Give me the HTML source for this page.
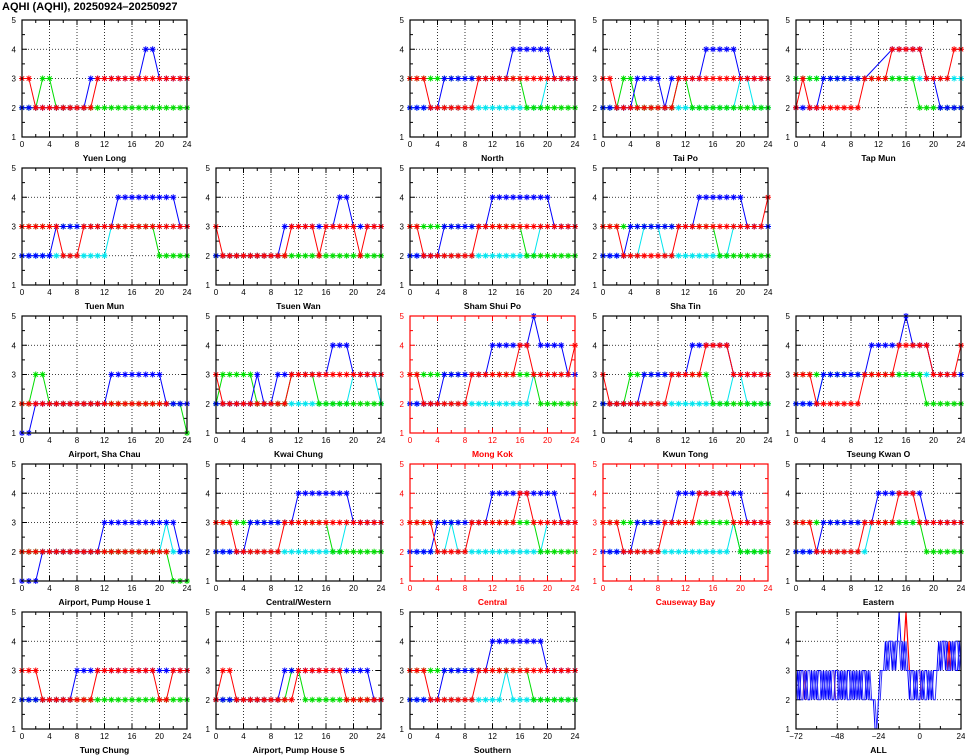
<!DOCTYPE html>
<html><head><meta charset="utf-8"><style>
html,body{margin:0;padding:0;background:#fff;}
svg{display:block;font-family:"Liberation Sans",sans-serif;}
</style></head><body>
<svg id="chart" width="965" height="755" viewBox="0 0 965 755">
<text x="2" y="10" font-size="11" font-weight="bold">AQHI (AQHI), 20250924–20250927</text>
</svg>
<script>
const N = null;
// station names in panel order
const stations = ["Yuen Long","North","Tai Po","Tap Mun","Tuen Mun","Tsuen Wan","Sham Shui Po","Sha Tin","Airport, Sha Chau","Kwai Chung","Mong Kok","Kwun Tong","Tseung Kwan O","Airport, Pump House 1","Central/Western","Central","Causeway Bay","Eastern","Tung Chung","Airport, Pump House 5","Southern"];
const roadside = ["Mong Kok","Central","Causeway Bay"];
const xTicks = [0,4,8,12,16,20,24];
const yTicks = [1,2,3,4,5];
const allXTicks = [-72,-48,-24,0,24];
// hourly series (hours 0..24) per station: blue, red, green, cyan
const blueVals = [
[2,2,2,2,2,2,2,2,2,2,3,3,3,3,3,3,3,3,4,4,3,3,3,3,3],
[2,2,2,2,2,3,3,3,3,3,3,3,3,3,3,4,4,4,4,4,4,3,3,3,3],
[2,2,2,2,2,3,3,3,3,2,3,3,3,3,3,4,4,4,4,4,3,3,3,3,3],
[2,2,2,2,3,3,3,3,3,3,3,N,N,N,4,4,4,4,4,3,3,2,2,2,2],
[2,2,2,2,2,3,3,3,3,3,3,3,3,3,4,4,4,4,4,4,4,4,4,3,3],
[2,2,2,2,2,2,2,2,2,2,3,3,3,3,3,3,3,3,4,4,3,3,3,3,3],
[2,2,2,2,2,3,3,3,3,3,3,3,4,4,4,4,4,4,4,4,4,3,3,3,3],
[2,2,2,2,3,3,3,3,3,3,3,3,3,3,4,4,4,4,4,4,4,3,3,3,3],
[1,1,2,2,2,2,2,2,2,2,2,2,2,3,3,3,3,3,3,3,3,2,2,2,2],
[2,2,2,2,2,2,3,2,2,3,3,3,3,3,3,3,3,4,4,4,3,3,3,3,3],
[2,2,2,2,2,3,3,3,3,3,3,3,4,4,4,4,4,4,5,4,4,4,4,3,3],
[2,2,2,2,2,2,3,3,3,3,3,3,3,4,4,4,4,4,4,3,3,3,3,3,3],
[2,2,2,2,3,3,3,3,3,3,3,4,4,4,4,4,5,4,4,4,3,3,3,3,3],
[1,1,1,2,2,2,2,2,2,2,2,2,3,3,3,3,3,3,3,3,3,3,3,2,2],
[2,2,2,2,2,3,3,3,3,3,3,3,4,4,4,4,4,4,4,4,3,3,3,3,3],
[2,2,2,2,3,3,3,3,3,3,3,3,4,4,4,4,4,4,4,4,4,4,3,3,3],
[2,2,2,2,2,3,3,3,3,3,3,4,4,4,4,4,4,4,4,4,4,3,3,3,3],
[2,2,2,2,3,3,3,3,3,3,3,3,4,4,4,4,4,4,4,3,3,3,3,3,3],
[2,2,2,2,2,2,2,2,3,3,3,3,3,3,3,3,3,3,3,3,3,3,3,3,3],
[2,2,2,2,2,2,2,2,2,2,3,3,3,3,3,3,3,3,3,3,3,3,3,2,2],
[2,2,2,2,2,3,3,3,3,3,3,3,4,4,4,4,4,4,4,4,3,3,3,3,3]
];
const redVals = [
[3,3,2,2,2,2,2,2,2,2,2,3,3,3,3,3,3,3,3,3,3,3,3,3,3],
[3,3,3,2,2,2,2,2,2,2,3,3,3,3,3,3,3,3,3,3,3,3,3,3,3],
[3,3,2,2,2,2,2,2,2,2,2,3,3,3,3,3,3,3,3,3,3,3,3,3,3],
[2,3,2,2,2,2,2,2,2,2,3,3,3,3,4,4,4,4,4,3,3,3,3,4,4],
[3,3,3,3,3,3,2,2,2,3,3,3,3,3,3,3,3,3,3,3,3,3,3,3,3],
[3,2,2,2,2,2,2,2,2,2,2,3,3,3,3,2,3,3,3,3,3,2,3,3,3],
[3,3,2,2,2,2,2,2,2,2,3,3,3,3,3,3,3,3,3,3,3,3,3,3,3],
[3,3,3,2,2,2,2,2,2,2,2,3,3,3,3,3,3,3,3,3,3,3,3,3,4],
[2,2,2,2,2,2,2,2,2,2,2,2,2,2,2,2,2,2,2,2,2,2,N,N,N],
[3,2,2,2,2,2,2,2,2,2,2,3,3,3,3,3,3,3,3,3,3,3,3,3,3],
[3,3,2,2,2,2,2,2,2,3,3,3,3,3,3,3,4,4,3,3,3,3,3,3,4],
[3,2,2,2,2,2,2,2,2,2,3,3,3,3,3,4,4,4,4,3,3,3,3,3,3],
[3,3,3,2,2,2,2,2,2,2,3,3,3,3,3,4,4,4,4,4,3,3,3,3,4],
[2,2,2,2,2,2,2,2,2,2,2,2,2,2,2,2,2,2,2,2,2,2,N,N,N],
[3,3,3,2,2,2,2,2,2,2,3,3,3,3,3,3,3,3,3,3,3,3,3,3,3],
[3,3,3,3,2,2,2,2,2,3,3,3,3,3,3,3,4,4,3,3,3,3,3,3,3],
[3,3,3,2,2,2,2,2,2,3,3,3,3,3,4,4,4,4,4,3,3,3,3,3,3],
[3,3,3,2,2,2,2,2,2,2,3,3,3,3,3,4,4,4,3,3,3,3,3,3,3],
[3,3,3,2,2,2,2,2,2,2,2,3,3,3,3,3,3,3,3,3,2,2,3,3,3],
[2,3,3,2,2,2,2,2,2,2,2,2,3,3,3,3,3,3,3,2,2,2,2,2,2],
[3,3,3,2,2,2,2,2,2,2,3,3,3,3,3,3,3,3,3,3,3,3,3,3,3]
];
const greenVals = [
[2,2,2,3,3,2,2,2,2,2,2,2,2,2,2,2,2,2,2,2,2,2,2,2,2],
[3,3,3,3,3,3,3,3,3,3,3,3,3,3,3,3,3,2,2,2,2,2,2,2,2],
[2,2,2,3,3,2,2,2,2,2,2,3,3,2,2,2,2,2,2,2,2,2,2,2,2],
[3,3,3,3,3,3,3,3,3,3,3,3,3,3,3,3,3,3,2,2,2,2,2,2,2],
[3,3,3,3,3,3,3,3,3,3,3,3,3,3,3,3,3,3,3,3,2,2,2,2,2],
[2,2,2,2,2,2,2,2,2,2,2,2,2,2,2,2,2,2,2,2,2,2,2,2,2],
[3,3,3,3,3,3,3,3,3,3,3,3,3,3,3,3,3,2,2,2,2,2,2,2,2],
[3,3,3,3,3,3,3,3,3,3,3,3,3,3,3,3,3,2,2,2,2,2,2,2,2],
[2,2,3,3,2,2,2,2,2,2,2,2,2,2,2,2,2,2,2,2,2,2,2,2,1],
[2,3,3,3,3,3,2,2,2,2,2,3,3,3,3,2,2,2,2,2,2,2,2,2,2],
[3,3,3,3,3,3,3,3,3,3,3,3,3,3,3,3,3,3,3,2,2,2,2,2,2],
[2,2,2,2,3,3,3,3,3,3,3,3,3,3,3,3,2,2,2,2,2,2,2,2,2],
[3,3,3,3,3,3,3,3,3,3,3,3,3,3,3,3,3,3,3,2,2,2,2,2,2],
[2,2,2,2,2,2,2,2,2,2,2,2,2,2,2,2,2,2,2,2,2,2,1,1,1],
[3,3,3,3,3,3,3,3,3,3,3,3,3,3,3,3,3,2,2,2,2,2,2,2,2],
[3,3,3,3,3,3,3,3,3,3,3,3,3,3,3,3,3,3,3,2,2,2,2,2,2],
[3,3,3,3,3,3,3,3,3,3,3,3,3,3,3,3,3,3,3,3,2,2,2,2,2],
[3,3,3,3,3,3,3,3,3,3,3,3,3,3,3,3,3,3,3,2,2,2,2,2,2],
[2,2,2,2,2,2,2,2,2,2,2,2,2,2,2,2,2,2,2,2,2,2,2,2,2],
[2,2,2,2,2,2,2,2,2,2,2,3,3,2,2,2,2,2,2,2,2,2,2,2,2],
[3,3,3,3,3,3,3,3,3,3,3,3,3,3,3,3,3,3,2,2,2,2,2,2,2]
];
const cyanVals = [
null,
[2,2,2,2,2,2,2,2,2,2,2,2,2,2,2,2,2,2,2,2,3,3,3,3,3],
[2,2,2,2,2,2,2,2,2,2,2,2,2,2,2,2,2,2,2,2,3,3,2,2,2],
[3,3,3,3,3,3,3,3,3,3,3,3,3,3,3,3,3,3,3,3,3,3,3,3,3],
[2,2,2,2,2,2,2,2,2,2,2,2,2,3,3,3,3,3,3,3,3,3,3,3,3],
null,
[2,2,2,2,2,2,2,2,2,2,2,2,2,2,2,2,2,2,2,3,3,3,3,3,3],
[2,2,2,2,2,2,3,3,3,2,2,2,2,2,2,2,2,2,2,3,3,3,3,3,3],
null,
[2,2,2,2,2,2,2,2,2,2,2,2,2,2,2,2,2,2,2,2,3,3,3,3,2],
[2,2,2,2,2,2,2,2,2,2,2,2,2,2,2,2,2,2,3,3,3,3,3,3,3],
[2,2,2,2,2,2,2,2,2,2,2,2,2,2,2,2,2,2,2,3,3,2,2,2,2],
[2,2,2,2,3,3,3,3,3,3,3,3,3,3,3,3,3,3,3,3,3,3,3,3,3],
[2,2,2,2,2,2,2,2,2,2,2,2,2,2,2,2,2,2,2,2,2,3,2,2,2],
[2,2,2,2,2,2,2,2,2,2,2,2,2,2,2,2,2,2,2,3,3,3,3,3,3],
[2,2,2,2,2,2,3,2,2,2,2,2,2,2,2,2,2,2,2,2,3,3,3,3,3],
[2,2,2,2,2,2,2,2,2,2,2,2,2,2,2,2,2,2,2,3,2,2,2,2,2],
[2,2,2,2,2,2,2,2,2,2,2,3,3,3,3,3,3,3,3,3,3,3,3,3,3],
null,
null,
[2,2,2,2,2,2,2,2,2,2,2,2,2,2,3,2,2,2,2,2,2,2,2,2,2]
];
// ALL panel overlay (hours -72..24)
const allBlueA = [2,3,2,3,3,2,3,2,2,3,2,3,2,3,3,2,3,2,3,2,3,2,2,3,3,2,3,2,3,2,3,3,2,3,2,3,2,3,2,3,3,2,3,
2,2,2,1,1,2,3,3,
3,4,3,4,4,3,4,3,4,5,4,3,4,3,3,2,3,
3,2,3,2,2,3,2,3,3,2,3,2,3,3,3,4,3,4,4,3,4,3,4,3,4,3,3,4,3];
const allBlueB = [3,2,3,2,2,3,2,3,3,2,3,2,3,2,2,3,2,3,2,3,2,3,3,2,2,3,2,3,2,3,2,2,3,2,3,2,3,2,3,2,2,3,2,
3,2,2,2,1,2,2,3,
3,3,4,3,4,4,3,4,4,4,3,4,3,4,3,3,2,
2,3,2,3,3,2,3,2,2,3,2,3,2,2,3,3,4,3,4,4,3,3,3,4,3,4,4,3,4];
const allRedHours = [-68,-67,-66,-50,-49,-9,-8,-7,-6,0,1,16,17,18];
const allRedVals = [2,3,2,3,2,4,5,4,3,3,2,3,4,3];

const svgNS = "http://www.w3.org/2000/svg";
const svg = document.getElementById("chart");
const colX = [22,216,410,603,796];
const rowY = [20,168,316,464,612];
const PW = 165, PH = 117;
const slots = [[0,0],[0,2],[0,3],[0,4],[1,0],[1,1],[1,2],[1,3],[2,0],[2,1],[2,2],[2,3],[2,4],[3,0],[3,1],[3,2],[3,3],[3,4],[4,0],[4,1],[4,2]];

function mk(tag, attrs, parent){
  const e = document.createElementNS(svgNS, tag);
  for (const k in attrs) e.setAttribute(k, attrs[k]);
  parent.appendChild(e);
  return e;
}
function slug(s){ return s.toLowerCase().replace(/[^a-z0-9]+/g,'-').replace(/-$/,''); }

function drawFrame(g, x0, y0, xmin, xmax, ticksX, frameColor, textColor, label){
  const sx = v => x0 + (v - xmin) / (xmax - xmin) * PW;
  const sy = v => y0 + PH - (v - 1) / 4 * PH;
  ticksX.slice(1,-1).forEach(t => {
    const l = mk('line',{x1:sx(t),x2:sx(t),y1:y0,y2:y0+PH,stroke:'#000','stroke-width':0.8,'stroke-dasharray':'1,2'},g);
    
    
  });
  [2,3,4].forEach(t => {
    const l = mk('line',{x1:x0,x2:x0+PW,y1:sy(t),y2:sy(t),stroke:'#000','stroke-width':0.8,'stroke-dasharray':'1,2'},g);
    
    
  });
  const step = (ticksX[1]-ticksX[0])/2;
  for (let t = xmin; t <= xmax + 0.001; t += step){
    const len = (Math.abs((t - xmin) % (step*2)) < 0.001) ? 5 : 3;
    mk('line',{x1:sx(t),x2:sx(t),y1:y0+PH,y2:y0+PH-len,stroke:frameColor,'stroke-width':1},g);
    mk('line',{x1:sx(t),x2:sx(t),y1:y0,y2:y0+len,stroke:frameColor,'stroke-width':1},g);
  }
  for (let v = 1; v <= 5; v += 0.5){
    const len = (v % 1 === 0) ? 5 : 3;
    mk('line',{x1:x0,x2:x0+len,y1:sy(v),y2:sy(v),stroke:frameColor,'stroke-width':1},g);
    mk('line',{x1:x0+PW,x2:x0+PW-len,y1:sy(v),y2:sy(v),stroke:frameColor,'stroke-width':1},g);
  }
  ticksX.forEach(t => {
    const tx = mk('text',{x:sx(t),y:y0+PH+10,'font-size':8,'text-anchor':'middle',fill:textColor},g);
    tx.textContent = t < 0 ? '−' + (-t) : String(t);
    
    
  });
  yTicks.forEach(t => {
    const ty = mk('text',{x:x0-6,y:sy(t)+3,'font-size':8,'text-anchor':'end',fill:textColor},g);
    ty.textContent = String(t);
    
    
  });
  const lb = mk('text',{x:x0+PW/2,y:y0+PH+24,'font-size':8.5,'font-weight':'bold','text-anchor':'middle',fill:textColor},g);
  lb.textContent = label;
  
  
  return {sx, sy};
}

function drawSeries(g, xs, vals, color, sx, sy, markers, width, name, breakGaps){
  const runs = [[]];
  vals.forEach((v,i) => {
    if (v === null) return;
    const cur = runs[runs.length-1];
    if (breakGaps && cur.length && xs[i] - cur[cur.length-1].h > 1) runs.push([]);
    runs[runs.length-1].push({h:xs[i], x:sx(xs[i]), y:sy(v)});
  });
  runs.forEach(pts => {
    if (!pts.length) return;
    const pl = mk('polyline',{points:pts.map(p=>p.x+','+p.y).join(' '),fill:'none',stroke:color,'stroke-width':width},g);
    
    
    if (markers){
      let d = '';
      pts.forEach(({x,y}) => {
        d += `M${x-3},${y}h6M${x},${y-3}v6M${x-2.2},${y-2.2}l4.4,4.4M${x-2.2},${y+2.2}l4.4,-4.4`;
      });
      const m = mk('path',{d:d,stroke:color,'stroke-width':1,fill:'none'},g);
      
      
    }
  });
}

const hours = [];
for (let h = 0; h <= 24; h++) hours.push(h);

stations.forEach((st, i) => {
  const [r,c] = slots[i];
  const x0 = colX[c], y0 = rowY[r];
  const isRoad = roadside.includes(st);
  const g = mk('g',{},svg);
  
  
  const fc = isRoad ? '#ff0000' : '#000';
  const {sx, sy} = drawFrame(g, x0, y0, 0, 24, xTicks, fc, fc, st);
  if (cyanVals[i]) drawSeries(g, hours, cyanVals[i], '#00e5ee', sx, sy, true, 1, 'cyan-series', false);
  drawSeries(g, hours, greenVals[i], '#00dd00', sx, sy, true, 1, 'green-series', false);
  drawSeries(g, hours, blueVals[i], '#0000ff', sx, sy, true, 1, 'blue-series', false);
  drawSeries(g, hours, redVals[i], '#ff0000', sx, sy, true, 1, 'red-series', false);
  const fr = mk('rect',{x:x0,y:y0,width:PW,height:PH,fill:'none',stroke:fc,'stroke-width':1.2},g);
  
  
});

(function(){
  const x0 = colX[4], y0 = rowY[4];
  const g = mk('g',{},svg);
  
  
  const {sx, sy} = drawFrame(g, x0, y0, -72, 24, allXTicks, '#000', '#000', 'ALL');
  const allHours = [];
  for (let h = -72; h <= 24; h++) allHours.push(h);
  drawSeries(g, allHours, allBlueA, '#0000ff', sx, sy, false, 1, 'all-blue-a', false);
  drawSeries(g, allRedHours, allRedVals, '#ff0000', sx, sy, false, 1.2, 'all-red', true);
  drawSeries(g, allHours, allBlueB, '#3333ff', sx, sy, false, 1, 'all-blue-b', false);
  const fr = mk('rect',{x:x0,y:y0,width:PW,height:PH,fill:'none',stroke:'#000','stroke-width':1.2},g);
  
  
})();
</script>
</body></html>
